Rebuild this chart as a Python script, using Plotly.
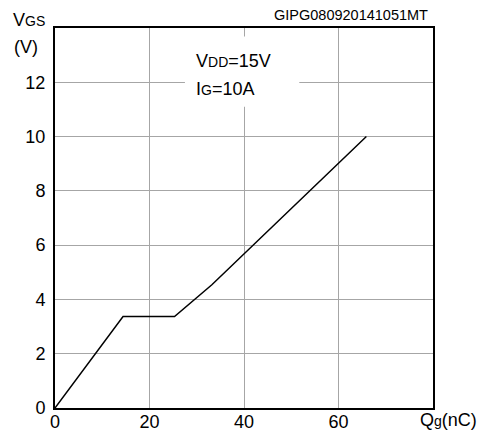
import plotly.graph_objects as go

# Gate charge curve (Qg in nC, VGS in V)
qg = [0, 14.4, 25.3, 33.2, 65.9]
vgs = [0, 3.37, 3.37, 4.54, 10.0]

x_ticks = [0, 20, 40, 60]
y_ticks = [0, 2, 4, 6, 8, 10, 12]

FONT = "Liberation Sans, Arial, sans-serif"
FS = 18
SUB = 14
W, H = 480, 432
# target plot area in window pixels: left 55, right 433, top 28, bottom 408
L, T = 55, 28
R = W - 433
B = H - 408
PW, PH = W - L - R, H - T - B


def px(x):
    return (x - L) / PW


def py(y):
    return 1 - (y - T) / PH


def sub(s):
    return f"<span style='font-size:{SUB}px'>{s}</span>"


fig = go.Figure()
fig.add_trace(go.Scatter(x=qg, y=vgs, mode="lines",
                         line=dict(color="black", width=1.5),
                         showlegend=False, hoverinfo="skip"))

fig.update_layout(
    width=W, height=H,
    margin=dict(l=L, r=R, t=T, b=B, autoexpand=False),
    paper_bgcolor="white", plot_bgcolor="white",
    font=dict(family=FONT, size=FS, color="black"),
)
fig.update_xaxes(range=[0, 80], tickvals=x_ticks, ticks="", showgrid=True,
                 gridcolor="#a6a6a6", gridwidth=1.2, zeroline=False,
                 showline=True, linecolor="black", linewidth=2, mirror=True,
                 tickfont=dict(size=FS), automargin=False, ticklabelstandoff=-4)
fig.update_yaxes(range=[0, 14], tickvals=y_ticks, ticks="", showgrid=True,
                 gridcolor="#a6a6a6", gridwidth=1.2, zeroline=False,
                 showline=True, linecolor="black", linewidth=2, mirror=True,
                 tickfont=dict(size=FS), automargin=False, ticklabelstandoff=4)

# white box behind the conditions text
fig.add_shape(type="rect", x0=27.5, x1=51.7, y0=11.1, y1=13.69, layer="between",
              fillcolor="white", line=dict(width=0))

annots = [
    dict(x=29.6, y=12.8, xref="x", yref="y", xanchor="left", yanchor="middle",
         text="V" + sub("DD") + "=15V"),
    dict(x=29.6, y=11.75, xref="x", yref="y", xanchor="left", yanchor="middle",
         text="I" + sub("G") + "=10A"),
    dict(x=px(12), y=py(20), xref="paper", yref="paper", xanchor="left",
         yanchor="middle", text="V" + sub("GS")),
    dict(x=px(13), y=py(47), xref="paper", yref="paper", xanchor="left",
         yanchor="middle", text="(V)"),
    dict(x=px(478), y=py(420), xref="paper", yref="paper", xanchor="right",
         yanchor="middle", text="Q" + sub("g") + "(nC)"),
    dict(x=px(429), y=py(15), xref="paper", yref="paper", xanchor="right",
         yanchor="middle", text="GIPG080920141051MT", font=dict(size=14.5)),
]
for a in annots:
    a["showarrow"] = False
    a["borderpad"] = 0
fig.update_layout(annotations=annots)

fig.write_html("out.html",
               config={"displayModeBar": False},
               post_script="document.body.style.margin='0';"
                           "document.body.style.overflow='hidden';")
